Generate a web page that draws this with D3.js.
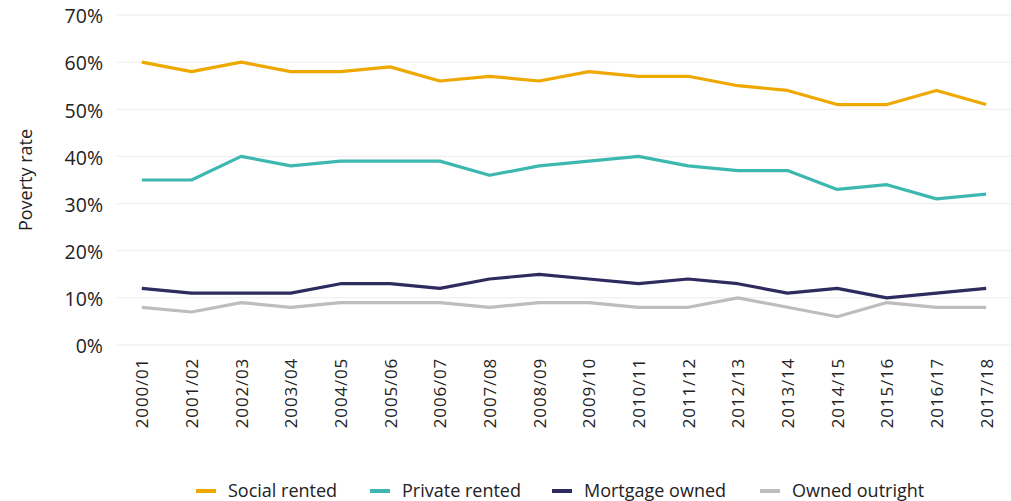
<!DOCTYPE html>
<html>
<head>
<meta charset="utf-8">
<script src="https://cdnjs.cloudflare.com/ajax/libs/d3/7.8.5/d3.min.js"></script>
<style>
  body { margin: 0; background: #fff; }
  svg { font-family: "Open Sans", sans-serif; }
</style>
</head>
<body>
<svg width="1011" height="501"></svg>
<script>
var years = ["2000/01","2001/02","2002/03","2003/04","2004/05","2005/06","2006/07","2007/08","2008/09",
  "2009/10","2010/11","2011/12","2012/13","2013/14","2014/15","2015/16","2016/17","2017/18"];

var socialRented   = [60,58,60,58,58,59,56,57,56,58,57,57,55,54,51,51,54,51];
var privateRented  = [35,35,40,38,39,39,39,36,38,39,40,38,37,37,33,34,31,32];
var mortgageOwned  = [12,11,11,11,13,13,12,14,15,14,13,14,13,11,12,10,11,12];
var ownedOutright  = [8,7,9,8,9,9,9,8,9,9,8,8,10,8,6,9,8,8];

var seriesNames = ["Social rented","Private rented","Mortgage owned","Owned outright"];
var yTicks = [0,10,20,30,40,50,60,70];

var series = [
  {name: seriesNames[0], values: socialRented,  color: "#EEA800"},
  {name: seriesNames[1], values: privateRented, color: "#3DB8B0"},
  {name: seriesNames[2], values: mortgageOwned, color: "#2E2B5F"},
  {name: seriesNames[3], values: ownedOutright, color: "#BDBDBD"}
];

var svg = d3.select("svg");

// note: "top" is taken by window.top, so plot edges get their own names
var plotLeft = 117, plotRight = 1011, plotTop = 15, plotBottom = 345;

//scales
var x = d3.scalePoint()
  .domain(years)
  .range([plotLeft, plotRight])
  .padding(0.5);

var y = d3.scaleLinear()
  .domain([0, 70])
  .range([plotBottom, plotTop]);

//gridlines
svg.append("g")
  .selectAll("line")
  .data(yTicks)
  .enter().append("line")
  .attr("x1", plotLeft)
  .attr("x2", plotRight)
  .attr("y1", function(d) { return y(d); })
  .attr("y2", function(d) { return y(d); })
  .attr("stroke", "#ececec")
  .attr("stroke-width", 1);

//y axis
var yAxis = svg.append("g")
  .attr("transform", "translate(" + plotLeft + ",0)")
  .call(d3.axisLeft(y).tickValues(yTicks).tickSize(0).tickPadding(14)
    .tickFormat(function(d) { return d + "%"; }));
yAxis.select(".domain").remove();
yAxis.selectAll("text")
  .attr("font-size", 19.5)
  .attr("fill", "#222")
  .attr("dy", "0.4em")
  .attr("font-family", "Open Sans, sans-serif");

svg.append("text")
  .attr("transform", "translate(32," + ((plotTop + plotBottom) / 2) + ") rotate(-90)")
  .attr("text-anchor", "middle")
  .attr("font-size", 18)
  .attr("fill", "#222")
  .text("Poverty rate");

//x axis
var xAxis = svg.append("g")
  .attr("transform", "translate(0," + plotBottom + ")")
  .call(d3.axisBottom(x).tickSize(0).tickPadding(0));
xAxis.select(".domain").remove();
xAxis.selectAll("text")
  .attr("font-size", 17)
  .attr("letter-spacing", 0.8)
  .attr("fill", "#222")
  .attr("font-family", "Open Sans, sans-serif")
  .attr("text-anchor", "end")
  .attr("transform", "rotate(-90)")
  .attr("x", -13)
  .attr("y", 0)
  .attr("dy", "0.35em");

//lines
var line = d3.line()
  .x(function(d, i) { return x(years[i]); })
  .y(function(d) { return y(d); });

svg.append("g")
  .selectAll("path")
  .data(series)
  .enter().append("path")
  .attr("d", function(d) { return line(d.values); })
  .attr("fill", "none")
  .attr("stroke", function(d) { return d.color; })
  .attr("stroke-width", 3.2)
  .attr("stroke-linejoin", "round");

//legend
var legendX = [196, 370, 552, 760];
var legend = svg.append("g")
  .selectAll("g")
  .data(series)
  .enter().append("g")
  .attr("transform", function(d, i) { return "translate(" + legendX[i] + ",491)"; });

legend.append("line")
  .attr("x1", 0).attr("x2", 20)
  .attr("y1", 0).attr("y2", 0)
  .attr("stroke", function(d) { return d.color; })
  .attr("stroke-width", 4);

legend.append("text")
  .attr("x", 32)
  .attr("dy", "0.35em")
  .attr("font-size", 18)
  .attr("fill", "#222")
  .text(function(d) { return d.name; });
</script>
</body>
</html>
